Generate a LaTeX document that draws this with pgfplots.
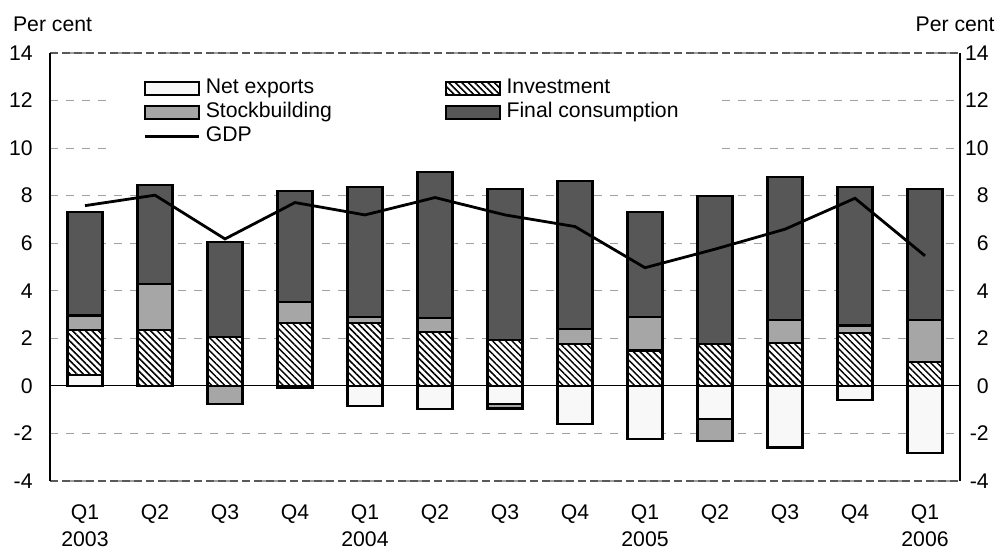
\documentclass[border=0pt]{standalone}
\usepackage{fontspec}
\setmainfont{Liberation Sans}
\usepackage{pgfplots}
\pgfplotsset{compat=1.18}
\usetikzlibrary{patterns.meta}
\definecolor{nxcol}{RGB}{248,248,248}
\definecolor{stcol}{RGB}{166,166,166}
\definecolor{fccol}{RGB}{87,87,87}
\definecolor{gridcol}{RGB}{160,160,160}
\newcommand{\lbl}{\fontsize{10.6}{13.8}\selectfont}

\pgfplotsset{
  base/.style={
    width=455pt, height=214pt, scale only axis,
    xmin=-0.5, xmax=12.5, ymin=-4, ymax=14,
    ytick={-4,-2,...,14},
    major tick length=0pt,
    tick label style={font=\lbl},
    /pgf/number format/assume math mode=true,
  },
  barsty/.style={draw=black, line width=1.1pt,
    legend image code/.code={\draw[##1] (0pt,-3.3pt) rectangle (27pt,3.3pt);}},
  linelegend/.style={legend image code/.code={\draw[##1] (0pt,0pt) -- (27pt,0pt);}},
  hatch/.style={fill=white, postaction={pattern={Lines[angle=-45,distance=2.3pt,line width=0.75pt]}}},
}

\begin{document}
\begin{tikzpicture}
% positive parts
\begin{axis}[base, name=main,
  ybar stacked, bar width=0.5,
  separate axis lines,
  x axis line style={draw=gray!70!black, dash pattern=on 4pt off 2pt, line width=1pt},
  y axis line style={black, line width=0.8pt},
  ymajorgrids, major grid style={gridcol, dash pattern=on 4pt off 4pt, line width=0.6pt},
  extra y ticks={0}, extra y tick labels={},
  extra y tick style={grid=major, major grid style={solid, black, line width=0.6pt}},
  xtick={0,...,12},
  xticklabels={{Q1\\2003},Q2,Q3,Q4,{Q1\\2004},Q2,Q3,Q4,{Q1\\2005},Q2,Q3,Q4,{Q1\\2006}},
  xticklabel style={align=center, anchor=north, inner sep=0pt, yshift=-11.5pt},
  yticklabel style={anchor=east, inner sep=0pt, xshift=-8.5pt},
  legend columns=2,
  legend style={at={(0.0626,0.9614)}, anchor=north west, fill=white, draw=none,
    inner xsep=18pt, inner ysep=4pt, font=\lbl, column sep=2.8pt, row sep=1.5pt,
    cells={anchor=west},
    nodes={inner sep=0pt, text height=7.9pt, text depth=2.6pt}},
]
\addplot[barsty, fill=nxcol] coordinates {
  (0,0.46) (1,0) (2,0) (3,0) (4,0) (5,0) (6,0) (7,0) (8,0) (9,0) (10,0) (11,0) (12,0)};
\addlegendentry{\makebox[116.7pt][l]{Net exports}}
\addplot[barsty, hatch] coordinates {
  (0,1.89) (1,2.35) (2,2.05) (3,2.64) (4,2.64) (5,2.26) (6,1.93) (7,1.77) (8,1.49) (9,1.75) (10,1.82) (11,2.21) (12,1.02)};
\addlegendentry{Investment}
\addplot[barsty, fill=stcol] coordinates {
  (0,0.61) (1,1.93) (2,0) (3,0.88) (4,0.27) (5,0.61) (6,0) (7,0.61) (8,1.42) (9,0) (10,0.96) (11,0.33) (12,1.76)};
\addlegendentry{\makebox[116.7pt][l]{Stockbuilding}}
\addplot[barsty, fill=fccol] coordinates {
  (0,4.34) (1,4.17) (2,3.99) (3,4.69) (4,5.47) (5,6.13) (6,6.34) (7,6.24) (8,4.39) (9,6.25) (10,6.01) (11,5.84) (12,5.49)};
\addlegendentry{Final consumption}
\addlegendimage{black, line width=1.4pt, linelegend}
\addlegendentry{GDP}
\end{axis}

% negative parts
\begin{axis}[base,
  ybar stacked, bar width=0.5,
  axis x line=none, axis y line*=right,
  y axis line style={black, line width=0.8pt},
  yticklabel pos=right,
  yticklabel style={anchor=east, inner sep=0pt, xshift=14.5pt},
]
\addplot[barsty, fill=nxcol] coordinates {
  (0,0) (1,0) (2,0) (3,-0.08) (4,-0.85) (5,-0.98) (6,-0.77) (7,-1.61) (8,-2.24) (9,-1.39) (10,-2.59) (11,-0.59) (12,-2.83)};
\addplot[barsty, fill=stcol] coordinates {
  (0,0) (1,0) (2,-0.77) (3,0) (4,0) (5,0) (6,-0.18) (7,0) (8,0) (9,-0.92) (10,0) (11,0) (12,0)};
\end{axis}

% GDP
\begin{axis}[base, hide axis]
\addplot[black, line width=1.4pt, mark=none] coordinates {
  (0,7.58) (1,8.02) (2,6.18) (3,7.71) (4,7.19) (5,7.92) (6,7.19) (7,6.70) (8,4.97) (9,5.75) (10,6.59) (11,7.89) (12,5.47)};
\end{axis}

\node[anchor=base west, inner sep=0pt, font=\lbl] at ([shift={(-18.65pt,10.65pt)}]main.north west) {Per cent};
\node[anchor=base east, inner sep=0pt, font=\lbl] at ([shift={(17.5pt,10.65pt)}]main.north east) {Per cent};

\pgfresetboundingbox
\path ([shift={(-25pt,-35pt)}]main.south west) rectangle ([shift={(20pt,26.5pt)}]main.north east);
\end{tikzpicture}
\end{document}
